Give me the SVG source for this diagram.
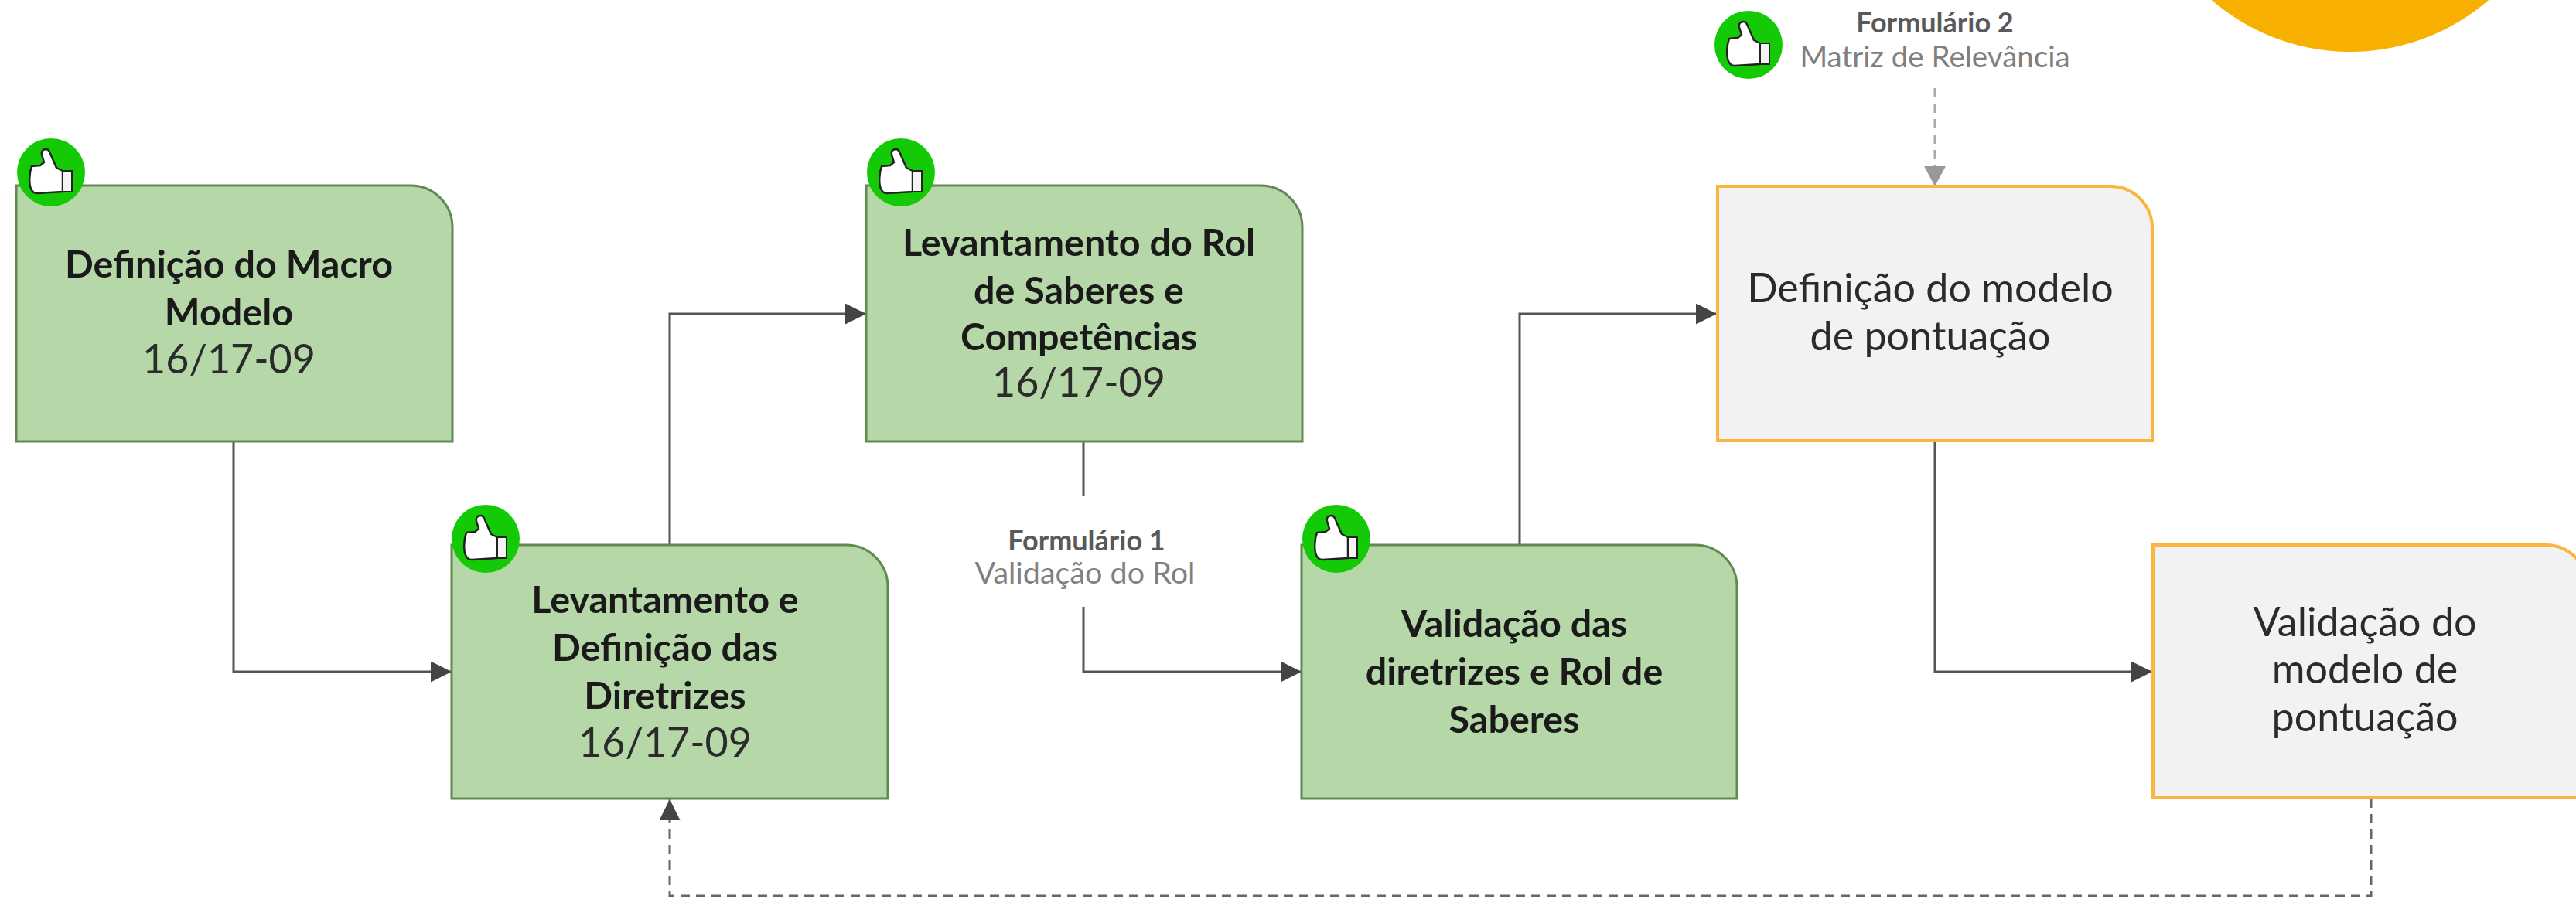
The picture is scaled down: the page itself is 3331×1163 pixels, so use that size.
<svg xmlns="http://www.w3.org/2000/svg" width="3331" height="1163" viewBox="0 0 3331 1163">
<style>
text{font-family:"Lato","Noto Sans",sans-serif;text-anchor:middle}
.g{fill:#b6d7a8;stroke:#5f8a50;stroke-width:3}
.o{fill:#f2f2f2;stroke:#f9b53f;stroke-width:4}
.t{font-size:48.500px;fill:#1a1a1a;font-weight:700}
.r{font-size:52px;fill:#2b2b2b}
.l{font-size:36px;fill:#595959;font-weight:700}
.m{font-size:39.500px;fill:#808080}
.n{font-size:38.500px;fill:#808080}
.c{fill:none;stroke:#555;stroke-width:3}
.d{fill:none;stroke:#666;stroke-width:3;stroke-dasharray:12 8}
.e{fill:none;stroke:#aaa;stroke-width:3;stroke-dasharray:12 8}
</style>
<defs>
<marker id="a" markerUnits="userSpaceOnUse" markerWidth="27" markerHeight="27" refX="27" refY="13.500" orient="auto"><path d="M0 0L27 13.500L0 27Z" fill="#444"/></marker>
<marker id="b" markerUnits="userSpaceOnUse" markerWidth="26" markerHeight="28" refX="26" refY="14" orient="auto"><path d="M0 0L26 14L0 28Z" fill="#999"/></marker>
<g id="thumb">
<circle r="44" fill="#14c906"/>
<path d="M-6-30C-11-30-13-27-12-23L-9-13L-14-9L-25-8C-28 0-29 14-26 21C-24 26-21 27-18 27L15 25V-2L7-6L0-22C-2-27-3-30-6-30Z" fill="#fff" stroke="#222" stroke-width="2.500" stroke-linejoin="round"/>
<rect x="15" y="-2" width="12" height="27" fill="#f4f4f4" stroke="#222" stroke-width="2"/>
</g>
</defs>
<circle id="sun" cx="3039" cy="-206" r="273" fill="#f7b000"/>
<g id="connectors">
<path class="c" d="M302 571V869H584" marker-end="url(#a)"/>
<path class="c" d="M866 704V406H1120" marker-end="url(#a)"/>
<path class="c" d="M1401 571V642"/>
<path class="c" d="M1401 785V869H1683" marker-end="url(#a)"/>
<path class="c" d="M1965 704V406H2220" marker-end="url(#a)"/>
<path class="c" d="M2502 571V869H2783" marker-end="url(#a)"/>
<path class="d" d="M3066 1033V1159H866V1034" marker-end="url(#a)"/>
<path class="e" d="M2502 114V241" marker-end="url(#b)"/>
</g>
<g id="n1"><path class="g" d="M21 240H531A54 54 0 0 1 585 294V571H21Z"/><text class="t" x="296" y="359">Definição do Macro</text><text class="t" x="296" y="421">Modelo</text><text class="r" x="296" y="483">16/17-09</text><use href="#thumb" x="66" y="223"/></g>
<g id="n2"><path class="g" d="M584 705H1094A54 54 0 0 1 1148 759V1033H584Z"/><text class="t" x="860" y="793">Levantamento e</text><text class="t" x="860" y="855">Definição das</text><text class="t" x="860" y="917">Diretrizes</text><text class="r" x="860" y="979">16/17-09</text><use href="#thumb" x="628" y="697"/></g>
<g id="n3"><path class="g" d="M1120 240H1630A54 54 0 0 1 1684 294V571H1120Z"/><text class="t" x="1395" y="331">Levantamento do Rol</text><text class="t" x="1395" y="393">de Saberes e</text><text class="t" x="1395" y="453">Competências</text><text class="r" x="1395" y="513">16/17-09</text><use href="#thumb" x="1165" y="223"/></g>
<g id="n4"><path class="g" d="M1683 705H2192A54 54 0 0 1 2246 759V1033H1683Z"/><text class="t" x="1958" y="824">Validação das</text><text class="t" x="1958" y="886">diretrizes e Rol de</text><text class="t" x="1958" y="948">Saberes</text><use href="#thumb" x="1728" y="697"/></g>
<g id="n5"><path class="o" d="M2221 241H2729A54 54 0 0 1 2783 295V570H2221Z"/><text class="r" x="2496" y="391">Definição do modelo</text><text class="r" x="2496" y="453">de pontuação</text></g>
<g id="n6"><path class="o" d="M2784 705H3292A54 54 0 0 1 3346 759V1032H2784Z"/><text class="r" x="3058" y="823">Validação do</text><text class="r" x="3058" y="884">modelo de</text><text class="r" x="3058" y="946">pontuação</text></g>
<g id="l1"><text class="l" x="1405" y="712">Formulário 1</text><text class="m" x="1403" y="755">Validação do Rol</text></g>
<g id="l2"><use href="#thumb" x="2261" y="58"/><text class="l" x="2502" y="42">Formulário 2</text><text class="n" x="2502" y="87">Matriz de Relevância</text></g>
</svg>
